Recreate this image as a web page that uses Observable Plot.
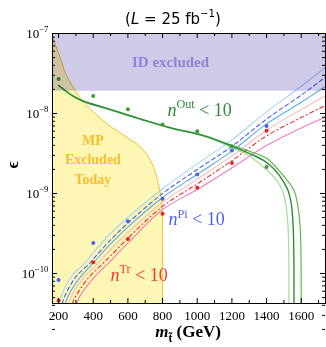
<!DOCTYPE html>
<html><head><meta charset="utf-8">
<script src="https://cdn.jsdelivr.net/npm/d3@7"></script>
<script src="https://cdn.jsdelivr.net/npm/@observablehq/plot@0.6"></script>
<style>body{margin:0;background:#fff} svg{display:block}</style>
</head><body><div id="chart"></div>
<script>
// ---------- data ----------
const masses = [200, 400, 600, 800, 1000, 1200, 1400];
const outPoints = [2.7e-8, 1.65e-8, 1.13e-8, 7.3e-9, 6.0e-9, 3.9e-9, 2.15e-9];
const piPoints  = [8.3e-11, 2.4e-10, 4.5e-10, 8.6e-10, 1.73e-9, 3.45e-9, 7.0e-9];
const trPoints  = [4.6e-11, 1.38e-10, 2.7e-10, 5.6e-10, 1.18e-9, 2.4e-9, 6.1e-9];

// curves: [mass GeV, log10 epsilon]
const piUpper = [[205,-10.375],[213,-10.296],[280,-10.02],[348,-9.879],[400,-9.74],[500,-9.50],[600,-9.30],[800,-8.94],[1000,-8.63],[1200,-8.33],[1400,-7.98],[1600,-7.66],[1740,-7.42]];
const piMid   = [[222,-10.375],[233,-10.296],[300,-10.04],[377,-9.879],[400,-9.82],[500,-9.58],[600,-9.37],[800,-9.00],[1000,-8.70],[1200,-8.41],[1400,-8.07],[1600,-7.77],[1740,-7.546]];
const piLower = [[240,-10.375],[252,-10.296],[320,-10.06],[396,-9.879],[500,-9.63],[600,-9.42],[800,-9.05],[1000,-8.76],[1200,-8.47],[1400,-8.13],[1600,-7.86],[1740,-7.66]];
const trUpper = [[258,-10.375],[271,-10.296],[340,-10.06],[425,-9.879],[500,-9.70],[600,-9.49],[800,-9.11],[1000,-8.82],[1200,-8.53],[1400,-8.21],[1600,-7.95],[1740,-7.775]];
const trMid   = [[280,-10.375],[296,-10.296],[370,-10.06],[454,-9.879],[500,-9.78],[600,-9.56],[800,-9.16],[1000,-8.88],[1200,-8.59],[1400,-8.28],[1600,-8.05],[1740,-7.90]];
const trLower = [[305,-10.375],[319,-10.296],[400,-10.06],[483,-9.879],[600,-9.62],[800,-9.20],[1000,-8.95],[1200,-8.68],[1400,-8.40],[1600,-8.18],[1740,-8.046]];

const outMid  = [[200,-7.65],[288,-7.79],[346,-7.85],[481,-7.94],[673,-8.07],[846,-8.18],[1038,-8.28],[1192,-8.40],[1290,-8.49],[1385,-8.59],[1450,-8.71],[1500,-8.86],[1525,-8.97],[1542,-9.12],[1552,-9.35],[1557,-9.7],[1558,-10.375]];
const outLow  = [[200,-7.655],[288,-7.795],[346,-7.855],[481,-7.945],[673,-8.075],[846,-8.185],[1038,-8.285],[1192,-8.42],[1290,-8.52],[1404,-8.71],[1460,-8.84],[1491,-8.96],[1510,-9.12],[1522,-9.35],[1528,-9.7],[1529,-10.375]];
const outHigh = [[200,-7.645],[288,-7.785],[346,-7.845],[481,-7.935],[673,-8.065],[846,-8.175],[1038,-8.272],[1192,-8.39],[1300,-8.47],[1400,-8.56],[1471,-8.71],[1520,-8.84],[1558,-8.96],[1580,-9.15],[1593,-9.4],[1599,-9.8],[1600,-10.375]];

// MP excluded today boundary (top to bottom)
const mpBoundary = [[160,-7.0],[173,-7.09],[211,-7.31],[240,-7.50],[346,-7.86],[481,-8.13],[596,-8.30],[673,-8.42],[731,-8.59],[760,-8.75],[775,-8.88],[792,-9.05],[798,-9.25],[800,-9.45],[800,-10.375]];

// ID excluded band
const idBand = [1.9e-8, 1e-7];

// ticks
const xMajor = [200, 400, 600, 800, 1000, 1200, 1400, 1600];
const xMinor = [300, 500, 700, 900, 1100, 1300, 1500, 1700];
const yMajor = [1e-10, 1e-9, 1e-8, 1e-7];
const yMinor = [];
for (let k = -11; k <= -8; k++) for (let j = 2; j <= 9; j++) yMinor.push(j * 10 ** k);

const labels = [
  {text: "{i:n}{sup:Out} < 10", m: 828, e: 9.3e-9, color: "#2f8a3c"},
  {text: "{i:n}{sup:Pi} < 10", m: 834, e: 4.0e-10, color: "#4a63ef"},
  {text: "{i:n}{sup:Tr} < 10", m: 500, e: 8.1e-11, color: "#f23c28"}
];

// ---------- chart ----------
const xDomain = [165, 1740];
const yDomain = [10 ** -10.375, 1e-7];
const innerH = 347 - 33 - 44, innerW = 326 - 52 - 1;
const serif = "Liberation Serif, Times New Roman, serif";
const P = d => ({x: d[0], y: 10 ** d[1]});
const pts = arr => arr.map(P);
const curveLine = (arr, o) => Plot.line(pts(arr), {x: "x", y: "y", curve: "catmull-rom", clip: true, ...o});
const dots = (vals, fill) => Plot.dot(masses.map((m, i) => ({x: m, y: vals[i]})), {x: "x", y: "y", r: 2, fill, stroke: "none"});

const svg = Plot.plot({
  width: 326, height: 347,
  marginTop: 33, marginBottom: 44, marginLeft: 52, marginRight: 1,
  style: {fontFamily: serif, fontSize: "13px", color: "black", background: "white"},
  x: {domain: xDomain, ticks: xMajor, tickSize: 0, tickPadding: 7, label: null, tickFormat: d => String(d)},
  y: {type: "log", domain: yDomain, ticks: yMajor, tickSize: 0, tickPadding: 4, label: null,
      tickFormat: d => "10{sup:−" + (-Math.round(Math.log10(d))) + "}"},
  marks: [
    Plot.areaX(pts(mpBoundary), {y: "y", x1: xDomain[0], x2: "x", fill: "#fdf6b4", curve: "catmull-rom", clip: true}),
    curveLine(mpBoundary, {stroke: "#f5c11c", strokeWidth: 1}),
    curveLine(piUpper, {stroke: "#a4d6f5", strokeWidth: 1.1}),
    curveLine(piLower, {stroke: "#58acf0", strokeWidth: 1.1}),
    curveLine(piMid, {stroke: "#4b5ff0", strokeWidth: 1.1, strokeDasharray: "4,3"}),
    curveLine(trUpper, {stroke: "#f8bcbc", strokeWidth: 1.1}),
    curveLine(trLower, {stroke: "#f07cbf", strokeWidth: 1.1}),
    curveLine(trMid, {stroke: "#f02a28", strokeWidth: 1.1, strokeDasharray: "4,3,1,3"}),
    curveLine(outLow, {stroke: "#a8da9c", strokeWidth: 1.2}),
    curveLine(outHigh, {stroke: "#5cbc48", strokeWidth: 1.2}),
    curveLine(outMid, {stroke: "#2f8a3c", strokeWidth: 1.4}),
    dots(outPoints, "#3c9a3c"),
    dots(piPoints, "#4a63ef"),
    dots(trPoints, "#f02020"),
    Plot.rect([idBand], {x1: xDomain[0], x2: xDomain[1], y1: d => d[0], y2: d => d[1], fill: "#cfcae8", mixBlendMode: "multiply"}),
    Plot.frame({stroke: "black", strokeWidth: 1}),
    Plot.tickX(xMajor, {x: d => d, insetTop: innerH - 5, stroke: "black"}),
    Plot.tickX(xMinor, {x: d => d, insetTop: innerH - 3, stroke: "black"}),
    Plot.tickX(xMajor, {x: d => d, insetBottom: innerH - 5, stroke: "black"}),
    Plot.tickX(xMinor, {x: d => d, insetBottom: innerH - 3, stroke: "black"}),
    Plot.tickY(yMajor, {y: d => d, insetRight: innerW - 5, stroke: "black"}),
    Plot.tickY(yMinor, {y: d => d, insetRight: innerW - 3, stroke: "black"}),
    Plot.tickY(yMajor, {y: d => d, insetLeft: innerW - 5, stroke: "black"}),
    Plot.tickY(yMinor, {y: d => d, insetLeft: innerW - 3, stroke: "black"}),
    Plot.text(["ID excluded"], {x: 846, y: 3.76e-8, text: d => d, fill: "#8f82de", fontWeight: "bold", fontSize: 15, fontFamily: serif, lineAnchor: "bottom"}),
    Plot.text(["MP\nExcluded\nToday"], {x: 398, y: 10 ** -8.875, text: d => d, fill: "#f7bf2c", fontWeight: "bold", fontSize: 14, lineHeight: 1.38, fontFamily: serif, lineAnchor: "bottom"}),
    Plot.text(labels, {x: "m", y: "e", text: "text", fill: "color", fontSize: 18, fontFamily: serif, textAnchor: "start", lineAnchor: "bottom"}),
    Plot.text(["({i:L} = 25 fb{sup:−1})"], {frameAnchor: "top", text: d => d, dy: -10, dx: -16, lineAnchor: "bottom", fontFamily: "DejaVu Sans, sans-serif", fontSize: 15}),
    Plot.text(["ϵ"], {frameAnchor: "left", text: d => d, dx: -40, rotate: -90, fontWeight: "bold", fontSize: 17, fontFamily: serif}),
    Plot.text(["{bi:m}{sub:t̃} (GeV)"], {frameAnchor: "bottom", text: d => d, dy: 33, dx: -1, lineAnchor: "bottom", fontWeight: "bold", fontSize: 17, fontFamily: serif})
  ]
});
document.getElementById("chart").appendChild(svg);

// rich text: {sup:..} {sub:..} {i:..} {bi:..}
const NS = "http://www.w3.org/2000/svg";
d3.select(svg).selectAll("text").each(function () {
  const el = this;
  if (el.querySelector("tspan")) return;
  const s = el.textContent;
  if (!/\{\w+:/.test(s)) return;
  const fs = parseFloat(getComputedStyle(el).fontSize) || 14;
  while (el.firstChild) el.removeChild(el.firstChild);
  const re = /\{(\w+):([^}]*)\}|([^{]+)/g;
  let m, off = 0;
  while ((m = re.exec(s))) {
    const kind = m[1] || "n", txt = m[1] ? m[2] : m[3];
    const t = document.createElementNS(NS, "tspan");
    let target = 0;
    if (kind === "sup") { target = -0.42 * fs; t.setAttribute("font-size", (0.68 * fs).toFixed(1)); }
    if (kind === "sub") { target = 0.3 * fs; t.setAttribute("font-size", (0.68 * fs).toFixed(1)); }
    if (kind === "i" || kind === "bi") t.setAttribute("font-style", "italic");
    if (kind === "bi") t.setAttribute("font-weight", "bold");
    if (target !== off) { t.setAttribute("dy", (target - off).toFixed(2)); off = target; }
    t.textContent = txt;
    el.appendChild(t);
  }
});
</script>
</body></html>
